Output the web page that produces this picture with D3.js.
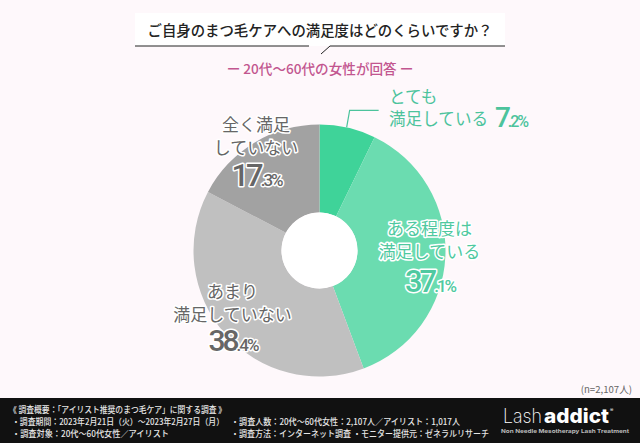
<!DOCTYPE html>
<html><head><meta charset="utf-8">
<script src="https://cdn.jsdelivr.net/npm/d3@7"></script>
<style>html,body{margin:0;padding:0;background:#fef8fb}svg{display:block}
svg{font-family:"Noto Sans CJK JP","Noto Sans",sans-serif}</style></head><body>
<svg id="c" width="640" height="443"></svg>
<script>
const categories=["とても満足している","ある程度は満足している","あまり満足していない","全く満足していない"];
const values=[7.2,37.1,38.4,17.3];
const colors=["#3fd399","#6bdcb0","#c0c0c0","#a2a2a2"];
const labelLines=[["とても","満足している"],["ある程度は","満足している"],["あまり","満足していない"],["全く満足","していない"]];
const pctInt=["7","37","38","17"];
const pctDec=[".2%",".1%",".4%",".3%"];
const labelColors=["#4cc39c","#4fc9a0","#666","#666"];
const titleText="ご自身のまつ毛ケアへの満足度はどのくらいですか？";
const subText="ー 20代～60代の女性が回答 ー";
const footLines=[
 {x:9,y:412.5,w:217,t:"《 調査概要：「アイリスト推奨のまつ毛ケア」に関する調査 》"},
 {x:12,y:424.5,w:212,t:"・調査期間：2023年2月21日（火）～2023年2月27日（月）"},
 {x:12,y:436.5,w:157,t:"・調査対象：20代～60代女性／アイリスト"},
 {x:231,y:424.5,w:229,t:"・調査人数：20代～60代女性：2,107人／アイリスト：1,017人"},
 {x:231,y:436.5,w:258,t:"・調査方法：インターネット調査 ・モニター提供元：ゼネラルリサーチ"}];
const svg=d3.select("#c");
// title
svg.append("rect").attr("x",135).attr("y",13).attr("width",370).attr("height",33).attr("fill","#fff");
svg.append("text").attr("x",320).attr("y",36).attr("text-anchor","middle").attr("font-size",14.4).attr("font-weight",500).attr("fill","#222").text(titleText);
svg.append("path").attr("d","M135,46H309M330,46H505M330,46L321,54").attr("fill","none").attr("stroke","#222").attr("stroke-width",1);
svg.append("text").attr("x",320).attr("y",73.5).attr("text-anchor","middle").attr("font-size",13.6).attr("font-weight",500).attr("fill","#c2568f").text(subText);
// donut
const cx=319.5,cy=250.5,R=126,r=38;
const pie=d3.pie().sort(null)(values);
const arc=d3.arc().innerRadius(r).outerRadius(R);
const g=svg.append("g").attr("transform",`translate(${cx},${cy})`);
g.selectAll("path").data(pie).join("path").attr("d",arc).attr("fill",(d,i)=>colors[i]);
g.append("circle").attr("r",r).attr("fill","#fff");
// leader
const a=pie[0].startAngle+(pie[0].endAngle-pie[0].startAngle)*0.48;
const p0=[cx+R*Math.sin(a),cy-R*Math.cos(a)];
svg.append("path").attr("d",`M${p0[0]},${p0[1]}L${p0[0]+3},${p0[1]-17}H${p0[0]+32}`).attr("fill","none").attr("stroke",labelColors[0]).attr("stroke-width",1.2);
function put(x,y,t,size,fill,halo,anchor,weight){
 const e=svg.append("text").attr("x",x).attr("y",y).attr("text-anchor",anchor||"middle").attr("font-size",size).attr("fill",fill).attr("font-weight",weight||400);
 if(halo)e.attr("stroke","#fff").attr("stroke-width",3).attr("stroke-linejoin","round").attr("paint-order","stroke");
 e.text(t);return e;
}
// labels
const pos=[{x:389,y:103,a:"start",halo:false},{x:429.5,y:235,a:"middle",halo:true},{x:232.5,y:298,a:"middle",halo:true},{x:256,y:131,a:"middle",halo:true}];
labelLines.forEach((ls,i)=>{
 const p=pos[i];
 ls.forEach((t,j)=>put(p.x,p.y+j*(i==0?22:23),t,i==0?16.6:17,labelColors[i],p.halo,p.a,400));
});
const pctPos=[{x:511,y:127,big:28,small:16},{x:430,y:292,big:31,small:17},{x:233,y:351,big:30,small:17},{x:256.5,y:186,big:31,small:17}];
pctPos.forEach((p,i)=>{
 const e=svg.append("text").attr("x",p.x).attr("y",p.y).attr("text-anchor","middle").attr("fill",labelColors[i]).attr("font-weight",500).attr("stroke","#fff").attr("stroke-width",i==0?0:3).attr("stroke-linejoin","round").attr("paint-order","stroke").style("font-family","Roboto");
 e.append("tspan").attr("font-size",p.big).attr("letter-spacing",-3).text(pctInt[i]);
 e.append("tspan").attr("font-size",p.small).attr("letter-spacing",-2).text(pctDec[i]);
});
put(632,392.5,"(n=2,107人)",9.6,"#666",false,"end");
// footer
svg.append("rect").attr("x",0).attr("y",398).attr("width",640).attr("height",45).attr("fill","#111");
footLines.forEach(f=>put(f.x,f.y,f.t,8.6,"#e6e6e6",false,"start",500).attr("textLength",f.w).attr("lengthAdjust","spacingAndGlyphs"));
svg.append("text").attr("x",503).attr("y",423).attr("fill","#fff").attr("font-size",20).attr("font-weight",200).style("font-family","Inter").attr("textLength",39).attr("lengthAdjust","spacingAndGlyphs").text("Lash");
svg.append("text").attr("x",544).attr("y",423).attr("fill","#fff").attr("font-size",20).attr("font-weight",800).style("font-family","Inter").attr("textLength",65).attr("lengthAdjust","spacingAndGlyphs").text("addict");
svg.append("text").attr("x",610).attr("y",412).attr("fill","#fff").attr("font-size",5).style("font-family","Inter").text("®");
svg.append("text").attr("x",501).attr("y",432.5).attr("fill","#bbb").attr("font-size",5.4).attr("font-weight",700).style("font-family","Inter").attr("textLength",128).attr("lengthAdjust","spacingAndGlyphs").text("Non Needle Mesotherapy Lash Treatment");
</script></body></html>
